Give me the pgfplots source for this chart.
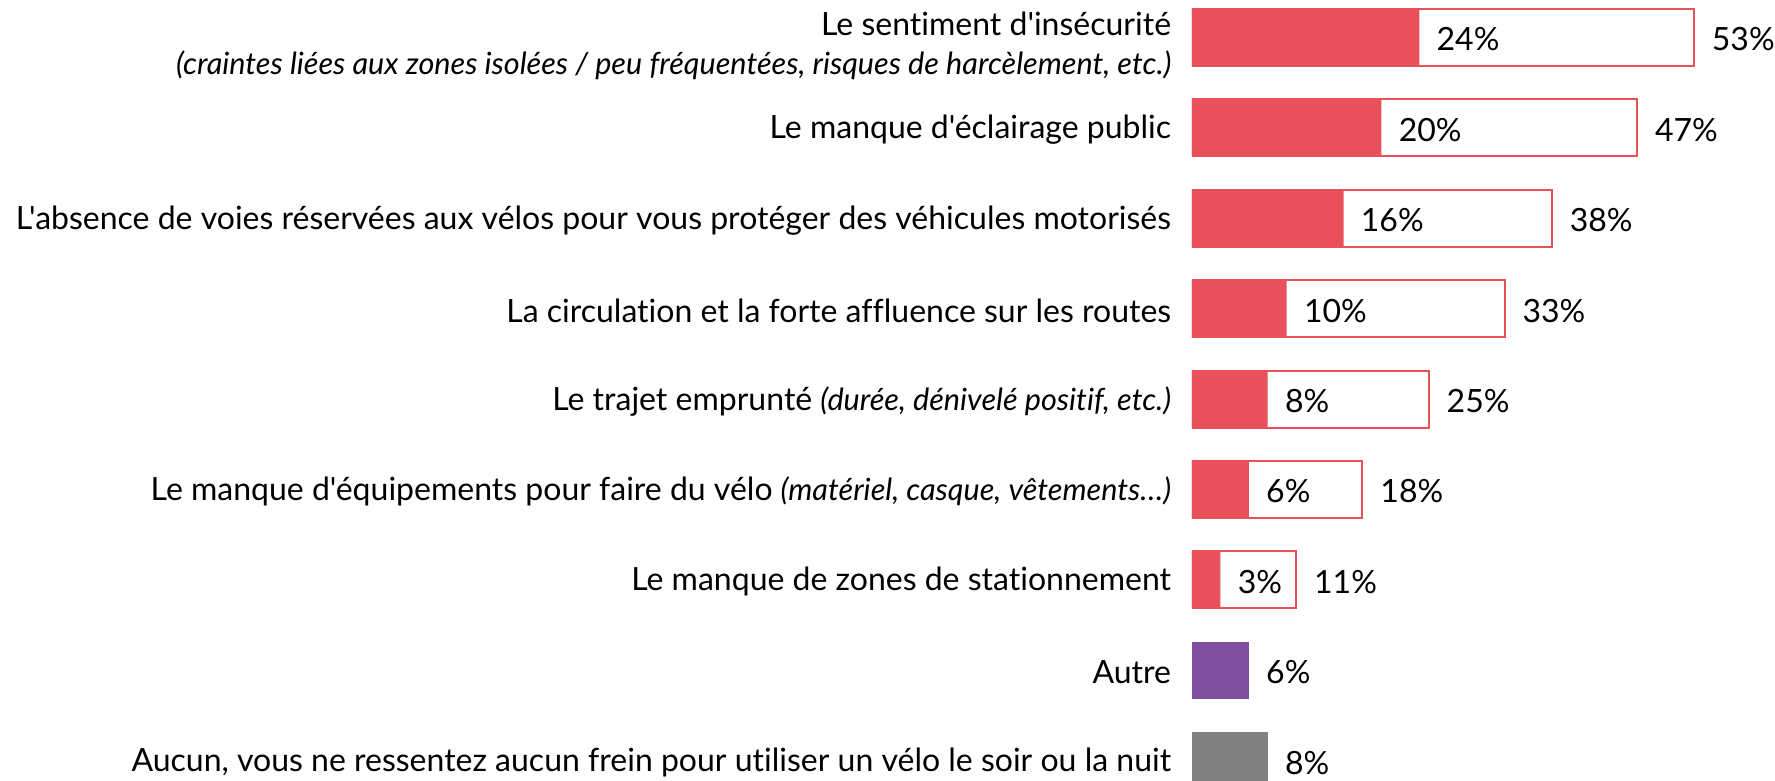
\documentclass[border=0pt]{standalone}
\usepackage{fontspec}
\setmainfont{Lato}[Ligatures={TeXOff,NoCommon}]
\usepackage{pgfplots}
\pgfplotsset{compat=1.18}
\definecolor{rouge}{HTML}{E8505B}
\definecolor{violet}{HTML}{7F4E9D}
\definecolor{gris}{HTML}{808080}
\newcommand{\lblfont}{\fontsize{16}{19.5}\selectfont}
\newcommand{\itl}[1]{{\fontsize{15.3}{19.5}\selectfont\itshape #1}}

\begin{document}
\begin{tikzpicture}
\begin{axis}[
    scale only axis,
    width=291.5pt, height=390.5pt,
    xbar, bar shift=0pt, bar width=0.63,
    xmin=0, xmax=61.56,
    ymin=-0.415, ymax=8.225, y dir=reverse,
    axis line style={draw=none},
    major tick style={draw=none},
    xtick=\empty,
    ytick={0,...,8},
    yticklabels={
        {\rule{0pt}{18pt}Le sentiment d'insécurité\\\itl{(craintes liées aux zones isolées / peu fréquentées, risques de harcèlement, etc.)}},
        {Le manque d'éclairage public},
        {L'absence de voies réservées aux vélos pour vous protéger des véhicules motorisés},
        {La circulation et la forte affluence sur les routes},
        {Le trajet emprunté \itl{(durée, dénivelé positif, etc.)}},
        {Le manque d'équipements pour faire du vélo \itl{(matériel, casque, vêtements…)}},
        {Le manque de zones de stationnement},
        {Autre},
        {Aucun, vous ne ressentez aucun frein pour utiliser un vélo le soir ou la nuit}
    },
    yticklabel style={anchor=east, inner sep=0pt, xshift=-6pt, yshift=-1pt, align=right, font=\lblfont, text=black},
    point meta=x,
    /pgf/number format/assume math mode=true,
    nodes near coords={\pgfmathprintnumber{\pgfplotspointmeta}\%},
    every node near coord/.append style={anchor=west, inner sep=0pt, xshift=8.5pt, yshift=-1pt, font=\lblfont, text=black},
]
% total
\addplot[draw=rouge, fill=white, line width=1pt]
    coordinates {(53,0) (47,1) (38,2) (33,3) (25,4) (18,5) (11,6)};
% first part
\addplot[draw=none, fill=rouge]
    coordinates {(24,0) (20,1) (16,2) (10,3) (8,4) (6,5) (3,6)};
\addplot[draw=none, fill=violet] coordinates {(6,7)};
\addplot[draw=none, fill=gris] coordinates {(8,8)};
\coordinate (bl) at (rel axis cs:0,0);
\coordinate (tr) at (rel axis cs:1,1);
\end{axis}
\pgfresetboundingbox
\path[use as bounding box] ([xshift=-596pt]bl) rectangle (tr);
\end{tikzpicture}
\end{document}
